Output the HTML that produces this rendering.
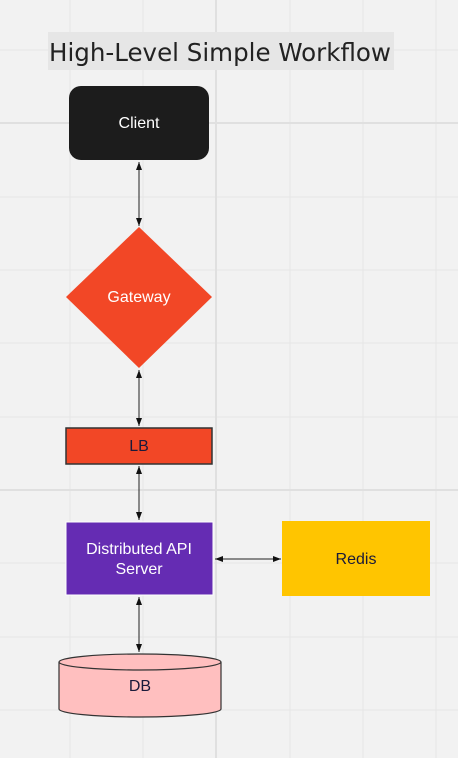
<!DOCTYPE html>
<html><head><style>
html,body{margin:0;padding:0;}
body{width:458px;height:758px;background:#f2f2f2;overflow:hidden;font-family:"Liberation Sans",Arial,sans-serif;}
</style></head><body>
<svg width="458" height="758" viewBox="0 0 458 758" xmlns="http://www.w3.org/2000/svg" style="position:absolute;left:0;top:0">
<defs>
<marker id="a" markerWidth="10" markerHeight="10" refX="8" refY="4" orient="auto-start-reverse" markerUnits="userSpaceOnUse">
<path d="M0,1 L8,4 L0,7 Z" fill="#111"/>
</marker>
</defs>
<g stroke="#e6e6e6" stroke-width="1">
<line x1="70" y1="0" x2="70" y2="758"/><line x1="143" y1="0" x2="143" y2="758"/>
<line x1="290" y1="0" x2="290" y2="758"/><line x1="363" y1="0" x2="363" y2="758"/><line x1="436" y1="0" x2="436" y2="758"/>
<line x1="0" y1="50" x2="458" y2="50"/><line x1="0" y1="197" x2="458" y2="197"/><line x1="0" y1="270" x2="458" y2="270"/>
<line x1="0" y1="343" x2="458" y2="343"/><line x1="0" y1="417" x2="458" y2="417"/><line x1="0" y1="563" x2="458" y2="563"/>
<line x1="0" y1="637" x2="458" y2="637"/><line x1="0" y1="710" x2="458" y2="710"/>
</g>
<g stroke="#e0e0e0" stroke-width="2">
<line x1="216" y1="0" x2="216" y2="758"/><line x1="0" y1="123" x2="458" y2="123"/><line x1="0" y1="490" x2="458" y2="490"/>
</g>
<rect x="48" y="32" width="346" height="38" fill="#e6e6e6"/>
<text x="220" y="61" font-family="'DejaVu Sans',sans-serif" font-size="24.5" fill="#222" text-anchor="middle" textLength="342" lengthAdjust="spacingAndGlyphs">High-Level Simple Workflow</text>
<rect x="69" y="86" width="140" height="74" rx="12" fill="#1c1c1c"/>
<text x="139" y="128" font-size="16" fill="#fff" text-anchor="middle">Client</text>
<polygon points="139,227 212,297 139,368 66,297" fill="#f24726"/>
<text x="139" y="302" font-size="16" fill="#fff" text-anchor="middle">Gateway</text>
<rect x="66" y="428" width="146" height="36" fill="#f24726" stroke="#333" stroke-width="1.5"/>
<text x="139" y="451" font-size="16" fill="#1a1a3a" text-anchor="middle">LB</text>
<rect x="66" y="522" width="147" height="73" fill="#652cb3" stroke="#fff" stroke-width="1"/>
<text x="139" y="554" font-size="16" fill="#fff" text-anchor="middle">Distributed API</text>
<text x="139" y="574" font-size="16" fill="#fff" text-anchor="middle">Server</text>
<rect x="282" y="521" width="148" height="75" fill="#ffc500"/>
<text x="356" y="564" font-size="16" fill="#1a1a3a" text-anchor="middle">Redis</text>
<path d="M59,662 L59,709 A81,8 0 0 0 221,709 L221,662" fill="#ffbfbf" stroke="#333" stroke-width="1.2"/>
<ellipse cx="140" cy="662" rx="81" ry="8" fill="#ffbfbf" stroke="#333" stroke-width="1.2"/>
<text x="140" y="691" font-size="16" fill="#1a1a3a" text-anchor="middle">DB</text>
<g stroke="#222" stroke-width="1" marker-start="url(#a)" marker-end="url(#a)">
<line x1="139" y1="162" x2="139" y2="226"/>
<line x1="139" y1="370" x2="139" y2="426"/>
<line x1="139" y1="466" x2="139" y2="520"/>
<line x1="139" y1="597" x2="139" y2="652"/>
<line x1="215" y1="559" x2="281" y2="559"/>
</g>
</svg>
</body></html>
